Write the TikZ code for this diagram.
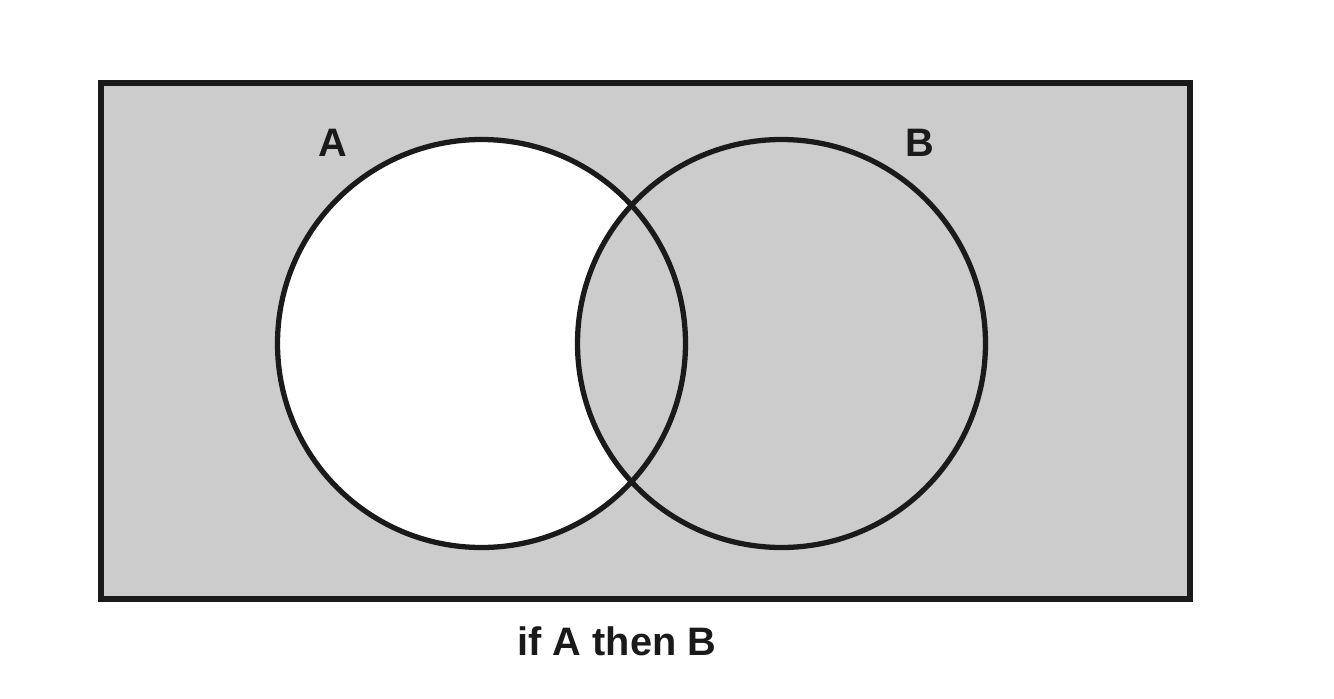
\documentclass[tikz,border=0pt]{standalone}
\usepackage{fontspec}
\setmainfont{Liberation Sans}
\usepackage{tikz}
\usetikzlibrary{positioning}
\definecolor{setgray}{HTML}{CCCCCC}
\definecolor{ink}{HTML}{1A1A1A}

\begin{document}
\begin{tikzpicture}[
  setcircle/.style={circle, minimum size=4.08cm, inner sep=0pt},
  setline/.style={draw=ink, line width=1.5pt},
  setlabel/.style={font=\fontsize{11.3}{13}\selectfont\bfseries, text=ink}
]
\useasboundingbox (0,0) rectangle (13.34,6.98);

% Universe
\node[draw=ink, line width=1.5pt, fill=setgray, minimum width=10.89cm, minimum height=5.16cm, inner sep=0pt] (universe) at (6.455,3.57) {};

% Sets
\node[setcircle] (setA) at (4.815,3.545) {};
\node[setcircle] (setB) at (7.815,3.545) {};

% A without B is white
\fill[white] (setA.center) circle (2.04);
\begin{scope}
  \clip (setA.center) circle (2.04);
  \fill[setgray] (setB.center) circle (2.04);
\end{scope}

% Outlines
\draw[setline] (setA.center) circle (2.04);
\draw[setline] (setB.center) circle (2.04);

% Labels
\node[setlabel] (labA) at (3.33,5.55) {A};
\node[setlabel] (labB) at (9.20,5.55) {B};
\node[setlabel] (caption) at (6.17,0.57) {if A then B};

\end{tikzpicture}
\end{document}
